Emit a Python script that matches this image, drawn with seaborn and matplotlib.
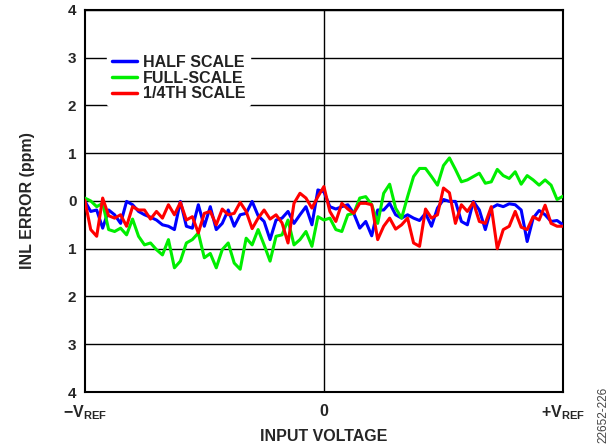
import numpy as np
import pandas as pd
import matplotlib
matplotlib.use("Agg")
import matplotlib.pyplot as plt
import seaborn as sns

# ---------------------------------------------------------------------------
# Data (81 codes from -VREF to +VREF)
# ---------------------------------------------------------------------------
input_voltage = np.linspace(-1.0, 1.0, 81)

half_scale = [
    0.00, -0.22, -0.19, -0.57, -0.19, -0.29, -0.47, -0.01, -0.08, -0.22,
    -0.29, -0.34, -0.40, -0.50, -0.53, -0.60, -0.01, -0.53, -0.57, -0.08,
    -0.53, -0.12, -0.60, -0.47, -0.19, -0.53, -0.29, -0.26, -0.01, -0.31,
    -0.43, -0.81, -0.40, -0.36, -0.22, -0.47, -0.29, -0.12, -0.50, 0.23,
    0.19, -0.12, -0.17, -0.12, -0.08, -0.26, -0.57, -0.43, -0.73, -0.19,
    -0.19, -0.05, -0.29, -0.36, -0.29, -0.36, -0.41, -0.26, -0.53, -0.15,
    0.03, -0.01, -0.01, -0.43, -0.50, -0.01, -0.19, -0.60, -0.15, -0.08,
    -0.12, -0.06, -0.08, -0.19, -0.85, -0.36, -0.20, -0.29, -0.43, -0.41,
    -0.50,
]

full_scale = [
    0.06, 0.00, -0.12, -0.05, -0.60, -0.64, -0.57, -0.71, -0.38, -0.74,
    -0.92, -0.88, -1.02, -1.13, -0.81, -1.40, -1.26, -0.88, -0.81, -0.67,
    -1.19, -1.10, -1.40, -1.02, -0.88, -1.30, -1.43, -0.78, -0.92, -0.60,
    -0.92, -1.26, -0.74, -0.71, -0.40, -0.92, -0.81, -0.64, -0.95, -0.33,
    -0.40, -0.36, -0.60, -0.64, -0.29, -0.26, 0.06, 0.09, -0.08, -0.47,
    0.16, 0.35, -0.15, -0.36, 0.09, 0.51, 0.68, 0.68, 0.51, 0.33,
    0.74, 0.90, 0.66, 0.40, 0.44, 0.51, 0.58, 0.37, 0.40, 0.66,
    0.53, 0.47, 0.61, 0.35, 0.53, 0.44, 0.33, 0.44, 0.33, 0.03,
    0.10,
]

quarter_scale = [
    0.02, -0.60, -0.74, 0.06, -0.31, -0.36, -0.29, -0.53, -0.12, -0.19,
    -0.19, -0.38, -0.22, -0.36, -0.08, -0.29, -0.03, -0.40, -0.33, -0.67,
    -0.26, -0.22, -0.50, -0.17, -0.29, -0.26, -0.03, -0.22, -0.58, -0.36,
    -0.19, -0.38, -0.29, -0.46, -0.88, -0.05, 0.16, 0.06, -0.15, 0.09,
    0.30, -0.22, -0.43, -0.05, -0.17, -0.26, -0.05, -0.05, -0.08, -0.81,
    -0.53, -0.36, -0.59, -0.50, -0.36, -0.88, -0.95, -0.17, -0.36, -0.29,
    0.27, 0.17, -0.47, -0.08, -0.22, -0.03, -0.43, -0.47, -0.12, -1.00,
    -0.60, -0.53, -0.22, -0.55, -0.60, -0.33, -0.40, -0.09, -0.47, -0.53,
    -0.53,
]

series_names = ["HALF SCALE", "FULL-SCALE", "1/4TH SCALE"]
series_colors = ["#0000ff", "#00ee00", "#ff0000"]
y_ticks = [-4, -3, -2, -1, 0, 1, 2, 3, 4]
x_ticks = [-1, 0, 1]
x_tick_labels = [r"$\mathbf{-V_{REF}}$", r"$\mathbf{0}$", r"$\mathbf{+V_{REF}}$"]

# ---------------------------------------------------------------------------
# Plot
# ---------------------------------------------------------------------------
sns.set_theme(style="white")
plt.rcParams["font.family"] = ["Liberation Sans", "DejaVu Sans"]
plt.rcParams["mathtext.fontset"] = "custom"
plt.rcParams["mathtext.rm"] = "Liberation Sans"
plt.rcParams["mathtext.bf"] = "Liberation Sans:bold"
plt.rcParams["mathtext.it"] = "Liberation Sans:bold"

df = pd.concat(
    [
        pd.DataFrame({"x": input_voltage, "inl": vals, "series": name})
        for name, vals in zip(series_names, [half_scale, full_scale, quarter_scale])
    ],
    ignore_index=True,
)

fig = plt.figure(figsize=(6.14, 4.46), dpi=100)
ax = fig.add_axes([0.138, 0.121, 0.779, 0.857])

for y in y_ticks:
    ax.axhline(y, color="black", lw=1.0, zorder=1)
ax.axvline(0, color="black", lw=1.0, zorder=1)

sns.lineplot(
    data=df, x="x", y="inl", hue="series", hue_order=series_names,
    palette=dict(zip(series_names, series_colors)), lw=2.2, ax=ax,
    zorder=3, estimator=None, sort=False,
)

ax.set_xlim(-1, 1)
ax.set_ylim(-4, 4)
ax.set_yticks(y_ticks)
ax.set_yticklabels([str(abs(v)) for v in y_ticks], fontsize=11, fontweight="bold")
ax.set_xticks(x_ticks)
ax.set_xticklabels(x_tick_labels, fontsize=11.5)
ax.tick_params(axis="y", length=0, pad=6)
ax.tick_params(axis="x", length=0, pad=8)

for s in ax.spines.values():
    s.set_color("black")
    s.set_linewidth(1.5)

ax.set_xlabel("INPUT VOLTAGE", fontsize=11.5, fontweight="bold")
ax.xaxis.set_label_coords(0.5, -0.098)
ax.set_ylabel("INL ERROR (ppm)", fontsize=11.5, fontweight="bold", labelpad=24)

leg = ax.legend(
    loc="upper left", bbox_to_anchor=(0.046, 0.895), frameon=True,
    fontsize=11.5, handlelength=1.6, handletextpad=0.35, labelspacing=0.05,
    borderpad=0.3, borderaxespad=0,
)
leg.get_frame().set_facecolor("white")
leg.get_frame().set_edgecolor("white")
leg.get_frame().set_alpha(1)
leg.set_zorder(5)
for t in leg.get_texts():
    t.set_fontweight("bold")
    t.set_color("#222222")
for h in leg.get_lines():
    h.set_linewidth(2.5)

fig.text(0.982, 0.07, "22652-226", rotation=90, fontsize=8.5, color="#444444",
         ha="center", va="center")

fig.savefig("out.png", dpi=100)
